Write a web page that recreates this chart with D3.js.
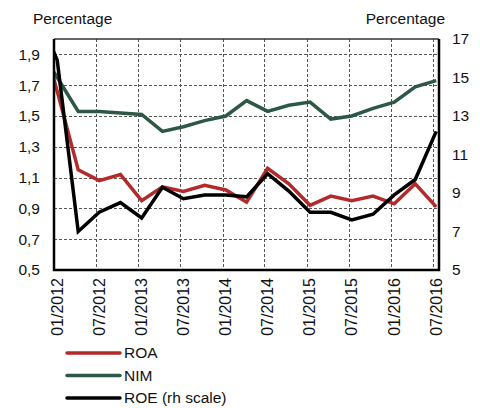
<!DOCTYPE html>
<html>
<head>
<meta charset="utf-8">
<script src="https://cdn.jsdelivr.net/npm/d3@7"></script>
<style>
  html, body { margin: 0; padding: 0; background: #fff; }
  svg { display: block; font-family: "Liberation Sans", Arial, sans-serif; }
</style>
</head>
<body>
<svg id="chart" width="480" height="408"></svg>
<script>
// Quarterly observations (mid-month), Q4 2011 – Q3 2016; the first one sits just outside the frame
const periods = [
  "2011-10",
  "2012-01","2012-04","2012-07","2012-10",
  "2013-01","2013-04","2013-07","2013-10",
  "2014-01","2014-04","2014-07","2014-10",
  "2015-01","2015-04","2015-07","2015-10",
  "2016-01","2016-04","2016-07"
];
const tickPeriods = ["2012-01","2012-07","2013-01","2013-07","2014-01","2014-07","2015-01","2015-07","2016-01","2016-07"];

// Left scale (percent)
const roa = [2.16,1.66,1.15,1.08,1.12,0.95,1.04,1.01,1.05,1.02,0.94,1.16,1.06,0.92,0.98,0.95,0.98,0.93,1.06,0.91];
const nim = [1.97,1.75,1.53,1.53,1.52,1.51,1.40,1.43,1.47,1.50,1.60,1.53,1.57,1.59,1.48,1.50,1.55,1.59,1.69,1.73];
// Right scale (percent)
const roe = [18.5,15.9,7.0,8.0,8.5,7.7,9.3,8.7,8.9,8.9,8.8,10.0,9.1,8.0,8.0,7.6,7.9,8.9,9.7,12.2];

const leftTicks = [0.5,0.7,0.9,1.1,1.3,1.5,1.7,1.9];
const rightTicks = [5,7,9,11,13,15,17];

const series = [
  { name: "ROA", values: roa, axis: "left", color: "#b22a2a" },
  { name: "NIM", values: nim, axis: "left", color: "#2d5845" },
  { name: "ROE (rh scale)", values: roe, axis: "right", color: "#000000" }
];

const FONT = "Liberation Sans, Arial, sans-serif";
const parseMonth = d3.utcParse("%Y-%m");
const monthStart = s => parseMonth(s);
const midMonth = s => d3.utcDay.offset(parseMonth(s), 14);
const fmtTick = d3.utcFormat("%m/%Y");

const svg = d3.select("#chart");
const plot = { left: 54, right: 439, top: 39, bottom: 270 };

const x = d3.scaleUtc().domain([monthStart("2012-01"), monthStart("2016-07")]).range([54, 433]);
const yL = d3.scaleLinear().domain([0.5, 2.0]).range([plot.bottom, plot.top]);
const yR = d3.scaleLinear().domain([5, 17]).range([plot.bottom, plot.top]);

const comma = d => d3.format(".1f")(d).replace(".", ",");

svg.append("defs").append("clipPath").attr("id", "plot-clip")
  .append("rect").attr("x", plot.left).attr("y", plot.top)
  .attr("width", plot.right - plot.left).attr("height", plot.bottom - plot.top);

// Grid
const grid = svg.append("g").attr("stroke", "#555").attr("stroke-width", 1)
  .attr("stroke-dasharray", "3,2").attr("shape-rendering", "crispEdges");
grid.selectAll("line.h").data(leftTicks.filter(d => d > 0.5)).join("line")
  .attr("x1", plot.left).attr("x2", plot.right)
  .attr("y1", d => Math.round(yL(d)) + 0.5).attr("y2", d => Math.round(yL(d)) + 0.5);
grid.selectAll("line.v").data(tickPeriods.slice(1)).join("line")
  .attr("x1", d => Math.round(x(monthStart(d))) + 0.5).attr("x2", d => Math.round(x(monthStart(d))) + 0.5)
  .attr("y1", plot.top).attr("y2", plot.bottom);

// Lines
const lineL = d3.line().x((d, i) => x(midMonth(periods[i]))).y(d => yL(d));
const lineR = d3.line().x((d, i) => x(midMonth(periods[i]))).y(d => yR(d));
svg.append("g").attr("clip-path", "url(#plot-clip)")
  .selectAll("path").data(series).join("path")
  .attr("fill", "none")
  .attr("stroke", d => d.color)
  .attr("stroke-width", 3.5)
  .attr("stroke-linejoin", "miter")
  .attr("d", d => (d.axis === "left" ? lineL : lineR)(d.values));

// Frame
svg.append("line").attr("x1", plot.left).attr("x2", plot.right)
  .attr("y1", plot.top).attr("y2", plot.top).attr("stroke", "#333").attr("stroke-width", 1.5);
svg.append("path")
  .attr("d", `M${plot.left},${plot.top}V${plot.bottom}H${plot.right}V${plot.top}`)
  .attr("fill", "none").attr("stroke", "#000").attr("stroke-width", 2.5);

// Left axis
const axL = svg.append("g").attr("transform", `translate(${plot.left - 2},0)`)
  .call(d3.axisLeft(yL).tickValues(leftTicks).tickFormat(comma).tickSize(0).tickPadding(12));
axL.select(".domain").remove();
axL.selectAll("text").attr("font-size", 15.5).attr("fill", "#111").attr("font-family", FONT);

// Right axis
const axR = svg.append("g").attr("transform", `translate(${plot.right + 2},0)`)
  .call(d3.axisRight(yR).tickValues(rightTicks).tickSize(0).tickPadding(11));
axR.select(".domain").remove();
axR.selectAll("text").attr("font-size", 15.5).attr("fill", "#111").attr("font-family", FONT);

// Bottom axis, rotated labels
const axB = svg.append("g").attr("transform", `translate(0,${plot.bottom})`)
  .call(d3.axisBottom(x).tickValues(tickPeriods.map(monthStart)).tickFormat(fmtTick).tickSize(0));
axB.select(".domain").remove();
axB.selectAll("text")
  .attr("font-size", 16).attr("fill", "#111").attr("font-family", FONT)
  .attr("text-anchor", "end")
  .attr("transform", "rotate(-90)")
  .attr("x", -8).attr("y", 0).attr("dy", "0.35em")
  .attr("dx", 0);
axB.selectAll(".tick").attr("transform", d => `translate(${x(d) + 3},0)`);

// Axis titles
svg.append("text").attr("x", 33).attr("y", 23.5).attr("font-size", 15.5).attr("fill", "#111")
  .attr("font-family", FONT).text("Percentage");
svg.append("text").attr("x", 445).attr("y", 23.5).attr("font-size", 15.5).attr("fill", "#111")
  .attr("font-family", FONT).attr("text-anchor", "end").text("Percentage");

// Legend
const lg = svg.append("g").selectAll("g").data(series).join("g")
  .attr("transform", (d, i) => `translate(67,${353 + i * 22.5})`);
lg.append("line").attr("x1", 0).attr("x2", 53).attr("stroke", d => d.color)
  .attr("stroke-width", 3.5).attr("stroke-linecap", "round");
lg.append("text").attr("x", 57).attr("dy", "0.35em").attr("font-size", 15.5).attr("fill", "#111")
  .attr("font-family", FONT).text(d => d.name);
</script>
</body>
</html>
